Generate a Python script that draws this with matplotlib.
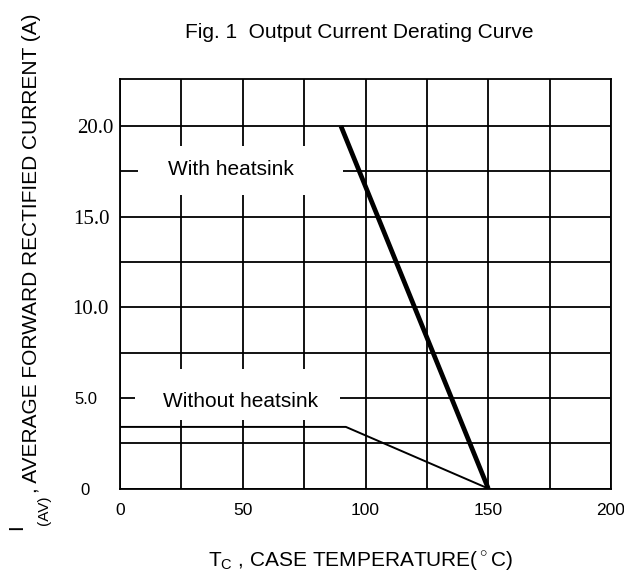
import matplotlib
matplotlib.use("Agg")
import matplotlib.pyplot as plt
from matplotlib.patches import Rectangle

plt.rcParams['font.family'] = ['Liberation Sans', 'DejaVu Sans']
plt.rcParams['mathtext.fontset'] = 'custom'
plt.rcParams['mathtext.rm'] = 'Liberation Sans'

# derating curves
temp_with = [90, 150]
current_with = [20.0, 0.0]
temp_without = [0, 92, 150]
current_without = [3.4, 3.4, 0.0]

x_ticks = [0, 50, 100, 150, 200]
x_ticklabels = ["0", "50", "100", "150", "200"]
y_ticks = [0, 5, 10, 15, 20]
y_ticklabels = ["0", "5.0", "10.0", "15.0", "20.0"]

fig = plt.figure(figsize=(6.24, 5.75), dpi=100)
ax = fig.add_axes([0.1923, 0.1504, 0.7869, 0.7122])

ax.set_xlim(0, 200)
ax.set_ylim(0, 22.6)
ax.set_xticks(x_ticks)
ax.set_xticklabels(x_ticklabels, fontsize=12.5)
ax.set_xticks([25, 75, 125, 175], minor=True)
ax.set_yticks(y_ticks)
ax.set_yticklabels(y_ticklabels)
ax.set_yticks([2.5, 7.5, 12.5, 17.5], minor=True)
ax.tick_params(which='both', length=0)
ax.tick_params(axis='x', pad=10.2)

ax.set_axisbelow(True)
ax.grid(which='both', color='black', linewidth=1.3)
for s in ax.spines.values():
    s.set_linewidth(1.3)

# y tick labels: mixed fonts and uneven offsets like the scan
y_pads = [21.6, 16.6, 8.6, 7.2, 5.0]
y_fams = ['Liberation Sans', 'Liberation Sans', 'Liberation Serif',
          'Liberation Serif', 'Liberation Serif']
y_sizes = [12, 12, 15, 15, 15]
for tick, p, fam, fs in zip(ax.yaxis.get_major_ticks(), y_pads, y_fams, y_sizes):
    tick.set_pad(p)
    tick.label1.set_fontfamily(fam)
    tick.label1.set_fontsize(fs)

# white label boxes hiding the grid
ax.add_patch(Rectangle((7.3, 16.2), 83.5, 2.7, facecolor='white',
                       edgecolor='none', zorder=1.5))
ax.add_patch(Rectangle((6.1, 3.8), 83.5, 2.8, facecolor='white',
                       edgecolor='none', zorder=1.5))
ax.text(45, 17.6, "With heatsink", fontsize=15, ha='center', va='center', zorder=3)
ax.text(49.3, 4.8, "Without heatsink", fontsize=15, ha='center', va='center', zorder=3)

ax.plot(temp_with, current_with, color='black', linewidth=3.4, zorder=2.5,
        solid_capstyle='butt')
ax.plot(temp_without, current_without, color='black', linewidth=1.4, zorder=2.5)

fig.text(359 / 624, 1 - 32 / 575, "Fig. 1  Output Current Derating Curve",
         fontsize=15, ha='center', va='center')
fig.text(361 / 624, 1 - 567 / 575,
         r"T$_\mathrm{C}$ , CASE TEMPERATURE($^\circ$C)",
         fontsize=15, ha='center', va='baseline')

fig.text(17 / 624, 1 - 527 / 575, "I", fontsize=15, rotation=90,
         ha='center', va='center')
fig.text(44 / 624, 1 - 510 / 575, "(AV)", fontsize=11, rotation=90,
         ha='center', va='center')
fig.text(32 / 624, 1 - 493 / 575, ", AVERAGE FORWARD RECTIFIED CURRENT (A)",
         fontsize=15, rotation=90, ha='center', va='bottom')

fig.savefig("out.png", dpi=100)
